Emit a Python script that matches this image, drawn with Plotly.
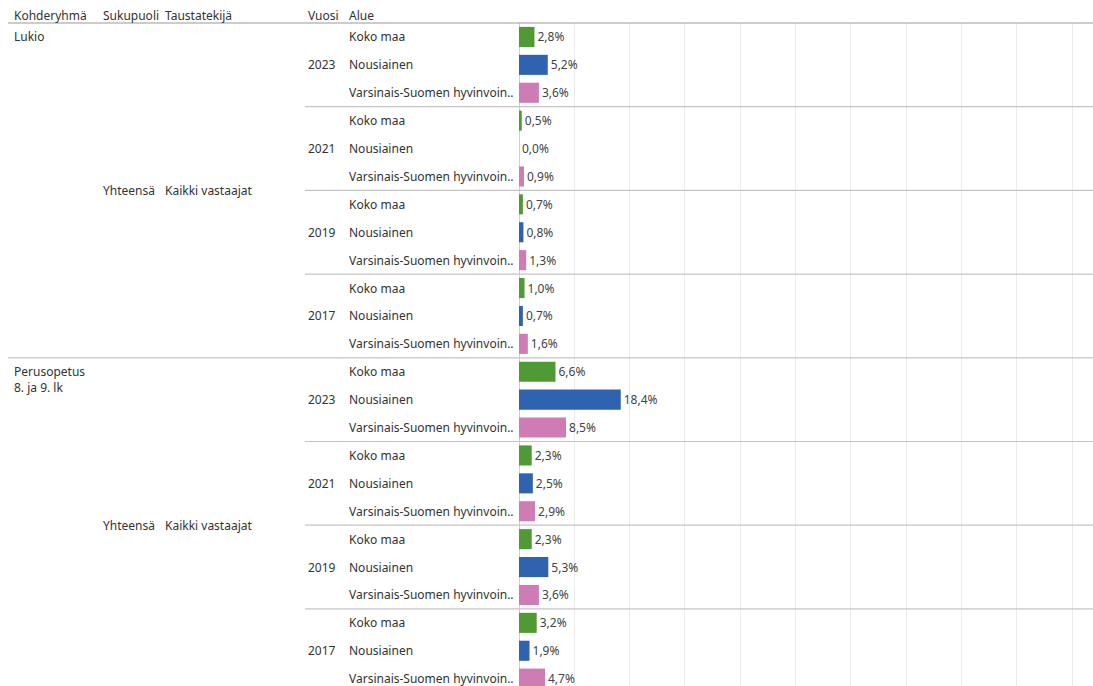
import plotly.graph_objects as go

W, H = 1093, 686
TOP = 23

groups = ["Lukio", "Perusopetus<br>8. ja 9. lk"]
years = ["2023", "2021", "2019", "2017"]
areas = ["Koko maa", "Nousiainen", "Varsinais-Suomen hyvinvoin.."]
colors = ["#4f9a32", "#2f63b0", "#d07cb4"]
sukupuoli = "Yhteensä"
taustatekija = "Kaikki vastaajat"
headers = ["Kohderyhmä", "Sukupuoli", "Taustatekijä", "Vuosi", "Alue"]
header_x = [12, 101, 163, 306, 347]

# values per group -> per year -> [Koko maa, Nousiainen, Varsinais-Suomi]
lukio = [[2.8, 5.2, 3.6], [0.5, 0.0, 0.9], [0.7, 0.8, 1.3], [1.0, 0.7, 1.6]]
perusopetus = [[6.6, 18.4, 8.5], [2.3, 2.5, 2.9], [2.3, 5.3, 3.6], [3.2, 1.9, 4.7]]
values = [lukio, perusopetus]

fig = go.Figure()
n_rows = len(groups) * len(years) * len(areas)

for ai, area in enumerate(areas):
    ys, xs, txt = [], [], []
    for gi in range(len(groups)):
        for yi in range(len(years)):
            row = (gi * len(years) + yi) * len(areas) + ai
            v = values[gi][yi][ai]
            ys.append(row)
            xs.append(v)
            txt.append(f"{v:.1f}%".replace(".", ","))
    fig.add_trace(go.Bar(
        x=xs, y=ys, orientation="h", width=0.72,
        marker=dict(color=colors[ai], line=dict(width=0)),
        text=txt, textposition="outside", cliponaxis=False,
        textfont=dict(size=12, color="#444"),
        name=area, showlegend=False, hoverinfo="skip",
    ))

def px(x):
    return x / W

ann = []
font = dict(family="Noto Sans, Open Sans, sans-serif", size=12, color="#333")
# headers
for h, hx in zip(headers, header_x):
    ann.append(dict(text=h, x=px(hx), y=1 + (TOP - 15) / (H - TOP), xref="paper", yref="paper",
                    xanchor="left", yanchor="middle", showarrow=False, font=font))

shapes = [dict(type="line", xref="paper", yref="paper", x0=px(8), x1=1, y0=1, y1=1,
               line=dict(color="#9a9a9a", width=1.2))]

for gi, g in enumerate(groups):
    base = gi * len(years) * len(areas)
    ann.append(dict(text=g, x=px(12), y=base - 0.4, xref="paper", yref="y", xanchor="left",
                    yanchor="top", showarrow=False, font=font, align="left"))
    mid = base + (len(years) * len(areas) - 1) / 2
    ann.append(dict(text=sukupuoli, x=px(101), y=mid, xref="paper", yref="y", xanchor="left",
                    yanchor="middle", showarrow=False, font=font))
    ann.append(dict(text=taustatekija, x=px(163), y=mid, xref="paper", yref="y", xanchor="left",
                    yanchor="middle", showarrow=False, font=font))
    for yi, yr in enumerate(years):
        ybase = base + yi * len(areas)
        ann.append(dict(text=yr, x=px(306), y=ybase + 1, xref="paper", yref="y", xanchor="left",
                        yanchor="middle", showarrow=False, font=font))
        for ai, area in enumerate(areas):
            ann.append(dict(text=area, x=px(347), y=ybase + ai, xref="paper", yref="y",
                            xanchor="left", yanchor="middle", showarrow=False, font=font))
        sep = ybase + len(areas) - 0.5
        if sep < n_rows - 1:
            x0 = px(8) if yi == len(years) - 1 else px(305)
            shapes.append(dict(type="line", xref="paper", yref="y", x0=x0, x1=1, y0=sep, y1=sep,
                               line=dict(color="#c4c4c4", width=1.2)))

x0_px = 519
px_per_unit = 5.53
xmax = (W - x0_px) / px_per_unit
row_h = 27.9
span = (H - TOP) / row_h

fig.update_layout(
    width=W, height=H,
    margin=dict(l=0, r=0, t=TOP, b=0),
    plot_bgcolor="white", paper_bgcolor="white",
    barmode="overlay",
    font=font,
    annotations=ann, shapes=shapes,
    xaxis=dict(domain=[x0_px / W, 1], range=[0, xmax], dtick=10, showticklabels=False,
               showgrid=True, gridcolor="#ebebeb", gridwidth=1,
               zeroline=True, zerolinecolor="#cfcfcf", zerolinewidth=1, fixedrange=True),
    yaxis=dict(range=[-0.5 + span, -0.5], showticklabels=False, showgrid=False,
               zeroline=False, fixedrange=True),
)

fig.write_html("out.html", config={"displayModeBar": False},
               post_script="document.body.style.margin='0';document.body.style.overflow='hidden';")
